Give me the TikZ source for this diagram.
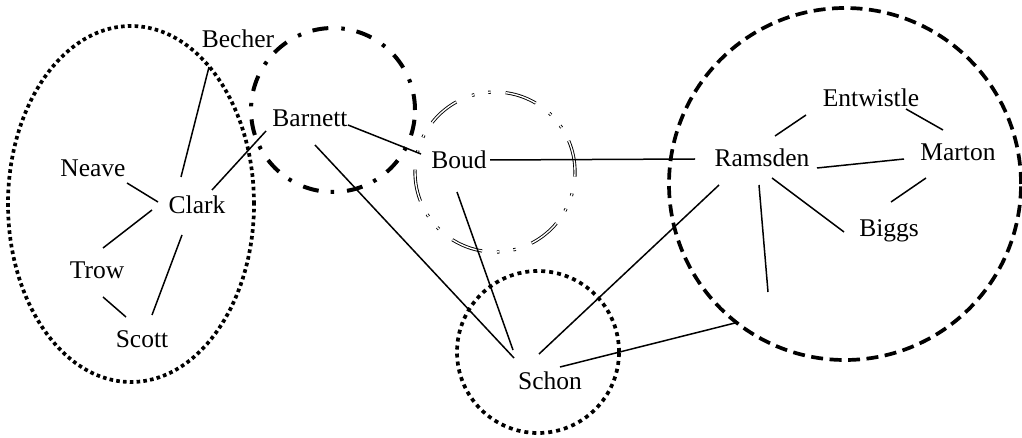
\documentclass[tikz,border=0pt]{standalone}
\usepackage{fontspec}
\setmainfont{Liberation Serif}
\begin{document}
\begin{tikzpicture}[x=1pt,y=-1pt,
  lbl/.style={font=\fontsize{25.5}{30}\selectfont, inner sep=0pt, anchor=base},
  conn/.style={line width=1.5pt},
  dotring/.style={line width=3.7pt, dash pattern=on 3.6pt off 3.2pt},
  dashdotring/.style={line width=4pt, dash pattern=on 16pt off 12pt on 3.5pt off 13pt},
  dashring/.style={line width=3.7pt, dash pattern=on 12pt off 6.5pt},
  dblring/.style={line width=0.9pt, double=white, double distance=1.4pt,
     dash pattern=on 32pt off 15pt on 2.5pt off 14pt on 2.5pt off 17pt}]
\useasboundingbox (0,0) rectangle (1022,438);
% group outlines
\draw[dotring] (131,204) ellipse [x radius=123pt, y radius=178pt];
\draw[dashdotring] (333,110) circle [radius=82pt];
\draw[dblring] (495,172) circle [radius=80pt];
\draw[dotring, dash pattern=on 4pt off 4pt] (538,352) circle [radius=81pt];
\draw[dashring] (845,184) circle [radius=176pt];
% nodes
\node[lbl] (Becher) at (238,48) {Becher};
\node[lbl] (Barnett) at (310,127) {Barnett};
\node[lbl] (Neave) at (93,177) {Neave};
\node[lbl] (Clark) at (197,214) {Clark};
\node[lbl] (Trow) at (97,279) {Trow};
\node[lbl] (Scott) at (142,347) {Scott};
\node[lbl] (Boud) at (459,169) {Boud};
\node[lbl] (Ramsden) at (762,167) {Ramsden};
\node[lbl] (Entwistle) at (871,107) {Entwistle};
\node[lbl] (Marton) at (958,161) {Marton};
\node[lbl] (Biggs) at (889,237) {Biggs};
\node[lbl] (Schon) at (550,389) {Schon};
\coordinate (rEnd) at (768,292);
\coordinate (sEnd) at (735,323);
% connectors
\draw[conn] ([shift={(-16,-37)}]Clark.base) -- ([shift={(-29,19)}]Becher.base);
\draw[conn] ([shift={(15,-24)}]Clark.base) -- ([shift={(-44,4)}]Barnett.base);
\draw[conn] ([shift={(34,6)}]Neave.base) -- ([shift={(-39,-12)}]Clark.base);
\draw[conn] ([shift={(6,-31)}]Trow.base) -- ([shift={(-45,-4)}]Clark.base);
\draw[conn] ([shift={(6,18)}]Trow.base) -- ([shift={(-16,-30)}]Scott.base);
\draw[conn] ([shift={(10,-32)}]Scott.base) -- ([shift={(-15,21)}]Clark.base);
\draw[conn] ([shift={(38,-2)}]Barnett.base) -- ([shift={(-38,-15)}]Boud.base);
\draw[conn] ([shift={(5,18)}]Barnett.base) -- ([shift={(-36,-31)}]Schon.base);
\draw[conn] ([shift={(-2,23)}]Boud.base) -- ([shift={(-37,-39)}]Schon.base);
\draw[conn] ([shift={(31,-9)}]Boud.base) -- ([shift={(-67,-8)}]Ramsden.base);
\draw[conn] ([shift={(-43,18)}]Ramsden.base) -- ([shift={(-11,-35)}]Schon.base);
\draw[conn] ([shift={(13,-31)}]Ramsden.base) -- ([shift={(-65,8)}]Entwistle.base);
\draw[conn] ([shift={(35,2)}]Entwistle.base) -- ([shift={(-15,-31)}]Marton.base);
\draw[conn] ([shift={(55,1)}]Ramsden.base) -- ([shift={(-54,-2)}]Marton.base);
\draw[conn] ([shift={(-32,17)}]Marton.base) -- ([shift={(2,-35)}]Biggs.base);
\draw[conn] ([shift={(10,11)}]Ramsden.base) -- ([shift={(-45,-5)}]Biggs.base);
\draw[conn] ([shift={(-3,18)}]Ramsden.base) -- (rEnd);
\draw[conn] ([shift={(10,-22)}]Schon.base) -- (sEnd);
\end{tikzpicture}
\end{document}
